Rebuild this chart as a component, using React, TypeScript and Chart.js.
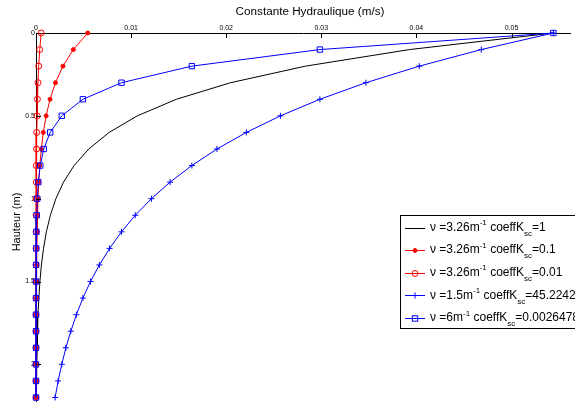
import React, { useEffect, useRef } from "react";
import { Chart, registerables } from "chart.js";

Chart.register(...registerables);

// Depth (m)
const depths = [0, 0.1, 0.2, 0.3, 0.4, 0.5, 0.6, 0.7, 0.8, 0.9, 1.0, 1.1, 1.2, 1.3, 1.4, 1.5, 1.6, 1.7, 1.8, 1.9, 2.0, 2.1, 2.2];

// Hydraulic constant (m/s) for each series
const kNu326c1 = [0.0544, 0.03927, 0.02834, 0.02046, 0.01476, 0.01066, 0.00769, 0.00555, 0.00401, 0.00289, 0.00209, 0.00151, 0.00109, 0.00079, 0.00057, 0.00041, 0.0003, 0.00021, 0.00015, 0.00011, 0.00008, 0.00006, 0.00004];
const kNu326c01 = [0.00544, 0.003927, 0.002834, 0.002046, 0.001476, 0.001066, 0.000769, 0.000555, 0.000401, 0.000289, 0.000209, 0.000151, 0.000109, 0.000079, 0.000057, 0.000041, 0.00003, 0.000021, 0.000015, 0.000011, 0.000008, 0.000006, 0.000004];
const kNu326c001 = [0.000544, 0.000393, 0.000283, 0.000205, 0.000148, 0.000107, 0.000077, 0.000056, 0.00004, 0.000029, 0.000021, 0.000015, 0.000011, 0.000008, 0.000006, 0.000004, 0.000003, 0.000002, 0.000002, 0.000001, 0.000001, 0.000001, 0];
const kNu15 = [0.0544, 0.04682, 0.0403, 0.03469, 0.02985, 0.0257, 0.02212, 0.01903, 0.01639, 0.0141, 0.01214, 0.01044, 0.00899, 0.00774, 0.00666, 0.00573, 0.00493, 0.00425, 0.00366, 0.00314, 0.00271, 0.00233, 0.00201];
const kNu6 = [0.0544, 0.02985, 0.01639, 0.00899, 0.00493, 0.00271, 0.00149, 0.000816, 0.000448, 0.000246, 0.000135, 0.000074, 0.000041, 0.000022, 0.000012, 0.0000067, 0.0000037, 0.000002, 0.0000011, 0.0000006, 0.0000003, 0.0000002, 0.0000001];

// Legend texts
const legendNu = ["3.26", "3.26", "3.26", "1.5", "6"];
const legendCoeff = ["1", "0.1", "0.01", "45.2242", "0.0026478"];

// Ticks
const xTickValues = [0, 0.01, 0.02, 0.03, 0.04, 0.05];
const xTickLabels = ["0", "0.01", "0.02", "0.03", "0.04", "0.05"];
const yTickValues = [0, 0.5, 1, 1.5, 2];
const yTickLabels = ["0", "0.5", "1", "1.5", "2"];

const xTitle = "Constante Hydraulique (m/s)";
const yTitle = "Hauteur (m)";

const FONT = "'Liberation Sans', Arial, Helvetica, sans-serif";

type Sty = { color: string; style: string; radius: number; fill: boolean };
const styles: Sty[] = [
  { color: "#000000", style: "none", radius: 0, fill: false },
  { color: "#ff0000", style: "circle", radius: 2, fill: true },
  { color: "#ff0000", style: "circle", radius: 3, fill: false },
  { color: "#0000ff", style: "cross", radius: 3, fill: false },
  { color: "#0000ff", style: "rect", radius: 3.8, fill: false },
];

function drawMarker(ctx: CanvasRenderingContext2D, s: Sty, x: number, y: number) {
  ctx.save();
  ctx.strokeStyle = s.color;
  ctx.fillStyle = s.color;
  ctx.lineWidth = 1;
  if (s.style === "circle") {
    ctx.beginPath();
    ctx.arc(x, y, s.radius, 0, Math.PI * 2);
    if (s.fill) ctx.fill();
    ctx.stroke();
  } else if (s.style === "cross") {
    ctx.beginPath();
    ctx.moveTo(x - s.radius, y);
    ctx.lineTo(x + s.radius, y);
    ctx.moveTo(x, y - s.radius);
    ctx.lineTo(x, y + s.radius);
    ctx.stroke();
  } else if (s.style === "rect") {
    const h = s.radius * Math.SQRT1_2;
    ctx.strokeRect(x - h, y - h, 2 * h, 2 * h);
  }
  ctx.restore();
}

const overlayPlugin = {
  id: "overlay",
  afterDraw(chart: any) {
    const { ctx, chartArea, scales } = chart;
    ctx.save();
    // inward tick marks
    ctx.strokeStyle = "#000";
    ctx.lineWidth = 1;
    xTickValues.forEach((v) => {
      if (v === 0) return;
      const px = Math.round(scales.x.getPixelForValue(v)) + 0.5;
      ctx.beginPath();
      ctx.moveTo(px, chartArea.top);
      ctx.lineTo(px, chartArea.top + 5);
      ctx.stroke();
    });
    yTickValues.forEach((v) => {
      if (v === 0) return;
      const py = Math.round(scales.y.getPixelForValue(v)) + 0.5;
      ctx.beginPath();
      ctx.moveTo(chartArea.left, py);
      ctx.lineTo(chartArea.left + 5, py);
      ctx.stroke();
    });

    // axis titles
    ctx.fillStyle = "#000";
    ctx.font = `11.7px ${FONT}`;
    ctx.textAlign = "center";
    ctx.textBaseline = "alphabetic";
    ctx.fillText(xTitle, 310, 15);
    ctx.save();
    ctx.translate(20, 222);
    ctx.rotate(-Math.PI / 2);
    ctx.font = `11px ${FONT}`;
    ctx.fillText(yTitle, 0, 0);
    ctx.restore();

    // legend box
    const bx = 400, by = 215, bw = 200, bh = 114;
    ctx.fillStyle = "#fff";
    ctx.fillRect(bx, by, bw, bh);
    ctx.strokeStyle = "#000";
    ctx.strokeRect(bx + 0.5, by + 0.5, bw, bh - 1);

    for (let i = 0; i < legendNu.length; i++) {
      const cy = 227.5 + i * 22.6;
      const s = styles[i];
      ctx.strokeStyle = s.color;
      ctx.lineWidth = 1;
      ctx.beginPath();
      ctx.moveTo(405, Math.round(cy) + 0.5);
      ctx.lineTo(425, Math.round(cy) + 0.5);
      ctx.stroke();
      if (s.style !== "none") drawMarker(ctx, s, 415, Math.round(cy) + 0.5);

      ctx.fillStyle = "#000";
      ctx.textAlign = "left";
      ctx.textBaseline = "middle";
      let x = 430;
      const main = `12px ${FONT}`;
      const small = `8px ${FONT}`;
      const parts: [string, string, number][] = [
        ["\u03bd =" + legendNu[i] + "m", main, 0],
        ["-1", small, -4.5],
        [" coeffK", main, 0],
        ["sc", small, 6],
        ["=" + legendCoeff[i], main, 0],
      ];
      parts.forEach(([t, f, dy]) => {
        ctx.font = f;
        ctx.fillText(t, x, cy + dy);
        x += ctx.measureText(t).width;
      });
    }
    ctx.restore();
  },
};

export default function App() {
  const ref = useRef<HTMLCanvasElement | null>(null);
  useEffect(() => {
    if (!ref.current) return;
    const series = [kNu326c1, kNu326c01, kNu326c001, kNu15, kNu6];
    const orders = [5, 4, 3, 2, 1];
    const datasets = series.map((arr, i) => {
      const s = styles[i];
      return {
        label: `nu=${legendNu[i]} coeff=${legendCoeff[i]}`,
        data: depths.map((d, j) => ({ x: arr[j], y: d })),
        borderColor: s.color,
        backgroundColor: s.fill ? s.color : "rgba(0,0,0,0)",
        pointBorderColor: s.color,
        pointBackgroundColor: s.fill ? s.color : "rgba(0,0,0,0)",
        borderWidth: 1,
        pointBorderWidth: 1,
        pointStyle: s.style === "none" ? "circle" : s.style,
        pointRadius: s.radius,
        tension: 0,
        fill: false,
        clip: false as any,
        order: orders[i],
      };
    });
    const chart = new Chart(ref.current, {
      type: "line",
      data: { datasets },
      options: {
        animation: false,
        responsive: false,
        devicePixelRatio: 1,
        layout: { padding: 0 },
        plugins: { legend: { display: false }, title: { display: false }, tooltip: { enabled: false } },
        scales: {
          x: {
            type: "linear",
            position: "top",
            min: 0,
            max: 0.05615,
            grid: { display: false, drawTicks: false },
            border: { display: true, color: "#000", width: 1 },
            ticks: {
              color: "#000",
              font: { size: 7, family: FONT },
              padding: 1,
              maxRotation: 0,
              autoSkip: false,
              callback: (_v: any, i: number) => xTickLabels[i],
            },
            afterBuildTicks: (s: any) => {
              s.ticks = xTickValues.map((v) => ({ value: v }));
            },
            afterFit: (s: any) => {
              s.height = 33;
            },
          },
          y: {
            type: "linear",
            reverse: true,
            min: 0,
            max: 2.226,
            grid: { display: false, drawTicks: false },
            border: { display: true, color: "#000", width: 1 },
            ticks: {
              color: "#000",
              font: { size: 7, family: FONT },
              padding: 1,
              autoSkip: false,
              callback: (_v: any, i: number) => yTickLabels[i],
            },
            afterBuildTicks: (s: any) => {
              s.ticks = yTickValues.map((v) => ({ value: v }));
            },
            afterFit: (s: any) => {
              s.width = 36;
            },
          },
        },
      },
      plugins: [overlayPlugin],
    });
    return () => chart.destroy();
  }, []);
  return (
    <div style={{ position: "fixed", left: 0, top: 0, width: 575, height: 407, background: "#fff" }}>
      <canvas ref={ref} width={575} height={407} style={{ width: 575, height: 407, display: "block" }} />
    </div>
  );
}
